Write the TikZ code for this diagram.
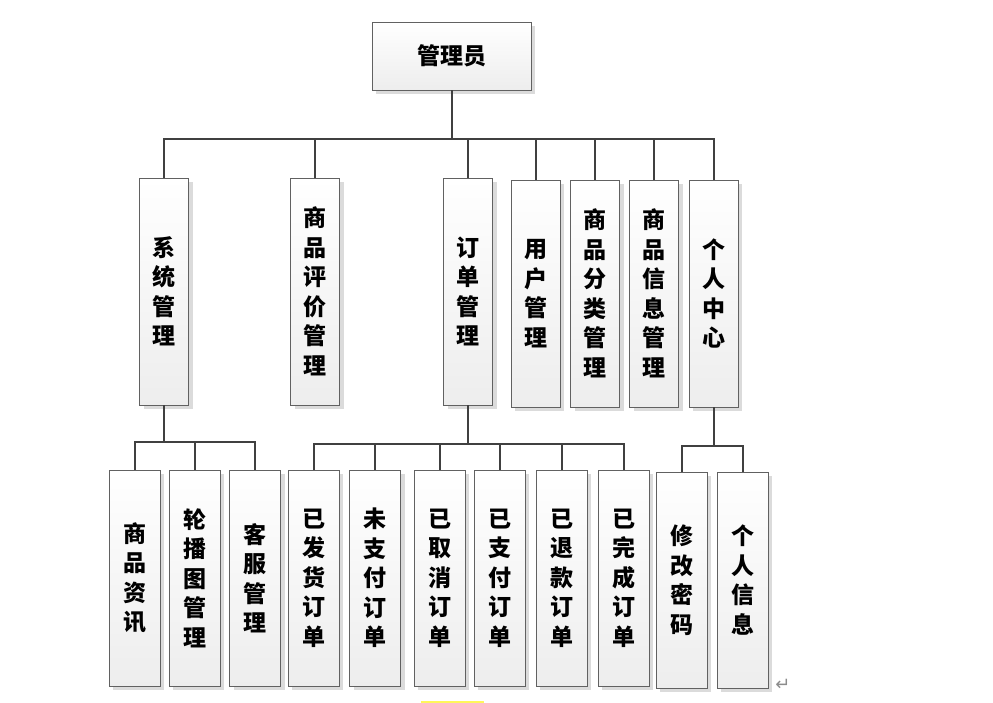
\documentclass[tikz,border=0pt]{standalone}
\usepackage{fontspec}
\newfontfamily\cjkfont{Noto Sans CJK SC}
\newfontfamily\symfont{DejaVu Sans}
\usetikzlibrary{positioning,shadows}

\begin{document}
\begin{tikzpicture}[
    x=1pt, y=-1pt,
    box/.style={draw=black!62, line width=0.9pt, top color=white, bottom color=black!7,
        drop shadow={shadow xshift=4pt, shadow yshift=-4pt, fill=black!14, opacity=1},
        inner sep=0pt, align=center, text=black,
        font=\cjkfont\bfseries\fontsize{23}{29.5}\selectfont},
    topbox/.style={box, minimum width=159pt, minimum height=68pt},
    midbox/.style={box, minimum width=49pt, minimum height=227pt},
    lowbox/.style={box, minimum width=51pt, minimum height=216pt},
    conn/.style={draw=black!75, line width=2pt}
]
\useasboundingbox (0,0) rectangle (993,703);

% top
\node[topbox] (admin) at (451.5,56) {管理员};

% second row
\node[midbox] (sys)   at (164,291.5)   {系\\统\\管\\理};
\node[midbox] (eval)  at (315,291.5)   {商\\品\\评\\价\\管\\理};
\node[midbox] (order) at (468,291.5)   {订\\单\\管\\理};
\node[midbox] (user)  at (535.5,293.5) {用\\户\\管\\理};
\node[midbox] (cat)   at (595,293.5)   {商\\品\\分\\类\\管\\理};
\node[midbox] (info)  at (654,293.5)   {商\\品\\信\\息\\管\\理};
\node[midbox] (mine)  at (713.5,293.5) {个\\人\\中\\心};

% third row
\node[lowbox] (news)    at (134.5,578) {商\\品\\资\\讯};
\node[lowbox] (banner)  at (194.5,578) {轮\\播\\图\\管\\理};
\node[lowbox] (service) at (255,578)   {客\\服\\管\\理};
\node[lowbox] (shipped) at (313.5,578) {已\\发\\货\\订\\单};
\node[lowbox] (unpaid)  at (375,578)   {未\\支\\付\\订\\单};
\node[lowbox] (cancel)  at (439.5,578) {已\\取\\消\\订\\单};
\node[lowbox] (paid)    at (499.5,578) {已\\支\\付\\订\\单};
\node[lowbox] (refund)  at (561.5,578) {已\\退\\款\\订\\单};
\node[lowbox] (done)    at (623.5,578) {已\\完\\成\\订\\单};
\node[lowbox] (pwd)     at (681.5,580) {修\\改\\密\\码};
\node[lowbox] (profile) at (742.5,580) {个\\人\\信\\息};

% connectors
\foreach \c in {sys,eval,order,user,cat,info,mine}
    \draw[conn] (admin.south) -- ++(0,49) -| (\c.north);
\foreach \c in {news,banner,service}
    \draw[conn] (sys.south) -- ++(0,37) -| (\c.north);
\foreach \c in {shipped,unpaid,cancel,paid,refund,done}
    \draw[conn] (order.south) -- ++(0,39) -| (\c.north);
\foreach \c in {pwd,profile}
    \draw[conn] (mine.south) -- ++(0,39) -| (\c.north);

% marks
\node[text=black!45, font=\symfont\fontsize{18}{18}\selectfont] (ret) at (783,685) {↵};
\fill[yellow!65] (421,700.5) rectangle (484,703);
\end{tikzpicture}
\end{document}
